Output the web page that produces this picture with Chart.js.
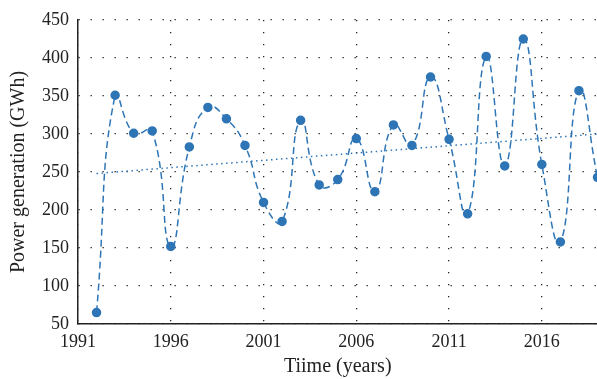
<!DOCTYPE html>
<html>
<head>
<meta charset="utf-8">
<script src="https://cdn.jsdelivr.net/npm/chart.js@4"></script>
<style>
  html, body { margin: 0; background: #fff; overflow: hidden; }
  canvas { display: block; }
</style>
</head>
<body>
<canvas id="powerChart" width="603" height="379"></canvas>
<script>
var years = [1992, 1993, 1994, 1995, 1996, 1997, 1998, 1999, 2000, 2001, 2002, 2003, 2004, 2005,
    2006, 2007, 2008, 2009, 2010, 2011, 2012, 2013, 2014, 2015, 2016, 2017, 2018, 2019];
var generation = [65, 351, 301, 304, 152, 283, 335, 320, 285, 210, 185, 318, 233, 240,
    294, 224, 312, 285, 375, 293, 195, 402, 258, 425, 260, 158, 357, 243];
var trendYears = [1992, 2019];
var trendValues = [248, 300];
var xTicks = [1991, 1996, 2001, 2006, 2011, 2016];

var seriesColor = '#2e75b6';
var gridOpts = {
    color: '#222',
    lineWidth: 1.3,
    drawTicks: false
};

function DrawChart() {
    var ctx = document.getElementById('powerChart').getContext('2d');
    var powerChart = new Chart(ctx, {
        type: 'scatter',
        data: {
            datasets: [{
                    data: years.map(function (y, i) { return {x: y, y: generation[i]}; }),
                    showLine: true,
                    borderColor: seriesColor,
                    backgroundColor: seriesColor,
                    borderWidth: 1.5,
                    borderDash: [7, 4],
                    tension: 0.5,
                    pointRadius: 4,
                    pointHoverRadius: 4
                }, {
                    data: trendYears.map(function (y, i) { return {x: y, y: trendValues[i]}; }),
                    showLine: true,
                    borderColor: seriesColor,
                    borderWidth: 1.5,
                    borderDash: [1.5, 3.5],
                    pointRadius: 0
                }]
        },
        options: {
            responsive: false,
            devicePixelRatio: 1,
            animation: false,
            layout: {
                padding: {top: 20, right: 0, left: 0, bottom: 0}
            },
            scales: {
                x: {
                    type: 'linear',
                    min: 1991,
                    max: 2019,
                    afterBuildTicks: function (scale) {
                        scale.ticks = xTicks.map(function (v) { return {value: v}; });
                    },
                    afterFit: function (scale) { scale.height = 55; },
                    grid: gridOpts,
                    border: {display: true, color: '#222', width: 1.5, dash: [1.3, 10.7]},
                    ticks: {
                        padding: 7,
                        color: '#222',
                        font: {family: 'Liberation Serif', size: 18},
                        callback: function (v) { return String(v); }
                    },
                    title: {
                        display: true,
                        text: 'Tiime (years)',
                        color: '#222',
                        font: {family: 'Liberation Serif', size: 20},
                        padding: {top: 0, bottom: 0}
                    }
                },
                y: {
                    min: 50,
                    max: 450,
                    afterFit: function (scale) { scale.width = 78; },
                    grid: gridOpts,
                    border: {display: true, color: '#222', width: 1.5, dash: [1.3, 10.7]},
                    ticks: {
                        stepSize: 50,
                        padding: 9,
                        color: '#222',
                        font: {family: 'Liberation Serif', size: 18}
                    },
                    title: {
                        display: true,
                        text: 'Power generation (GWh)',
                        color: '#222',
                        font: {family: 'Liberation Serif', size: 20},
                        padding: {top: 7, bottom: 0}
                    }
                }
            },
            plugins: {
                legend: {display: false},
                tooltip: {enabled: false}
            }
        }
    });
}

DrawChart();
</script>
</body>
</html>
